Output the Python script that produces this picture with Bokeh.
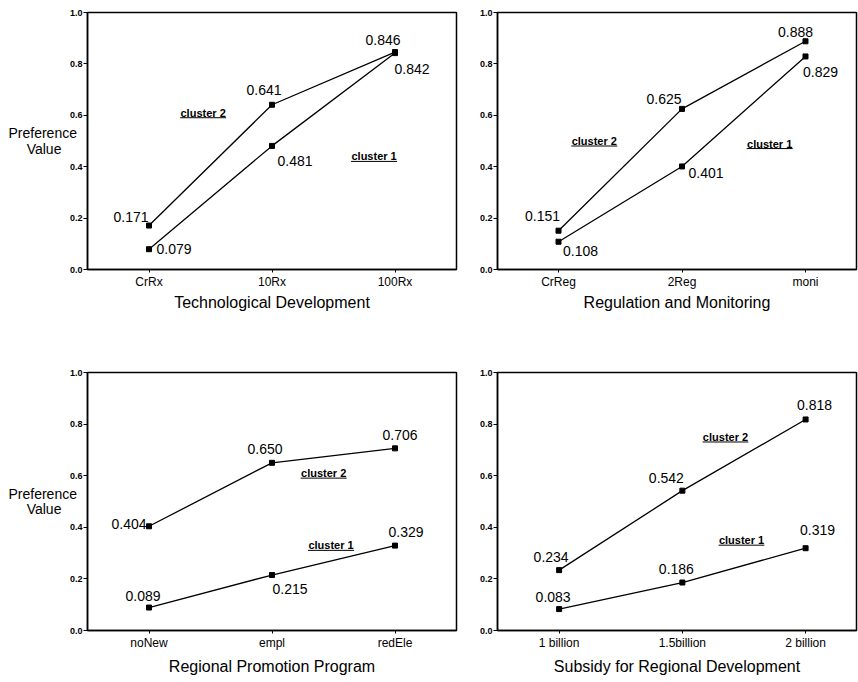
from bokeh.plotting import figure
from bokeh.layouts import gridplot
from bokeh.models import Range1d, FixedTicker, PrintfTickFormatter
from bokeh.core.properties import value
from bokeh.embed import file_html
from bokeh.resources import INLINE

# ---------------- data ----------------
tech_cats = ["CrRx", "10Rx", "100Rx"]
tech_c1 = [0.079, 0.481, 0.842]
tech_c2 = [0.171, 0.641, 0.846]

reg_cats = ["CrReg", "2Reg", "moni"]
reg_c1 = [0.108, 0.401, 0.829]
reg_c2 = [0.151, 0.625, 0.888]

prom_cats = ["noNew", "empl", "redEle"]
prom_c1 = [0.089, 0.215, 0.329]
prom_c2 = [0.404, 0.650, 0.706]

sub_cats = ["1 billion", "1.5billion", "2 billion"]
sub_c1 = [0.083, 0.186, 0.319]
sub_c2 = [0.234, 0.542, 0.818]

y_ticks = [0.0, 0.2, 0.4, 0.6, 0.8, 1.0]
cluster_names = ["cluster 1", "cluster 2"]
y_title = "Preference\nValue" + "\u00a0" * 4

FONT_NAME = "Liberation Sans"
FONT = value(FONT_NAME)


def make(cats, c1, c2, xlabel, w, h, mb, xr, off1, off2, cl_pos, ylabel=None,
         label_standoff=1):
    p = figure(width=w, height=h, x_range=Range1d(*xr), y_range=Range1d(0, 1),
               output_backend="svg", toolbar_location=None,
               min_border_left=mb[0], min_border_right=mb[1],
               min_border_top=mb[2], min_border_bottom=mb[3])
    p.grid.visible = False
    p.background_fill_color = "white"
    p.border_fill_color = "white"
    p.outline_line_color = "black"
    p.outline_line_width = 1.5
    p.outline_line_alpha = 1.0

    fw = w - mb[0] - mb[1]
    fh = h - mb[2] - mb[3]
    ppx = fw / (xr[1] - xr[0])

    xs = list(range(len(cats)))
    for ys, offs in ((c1, off1), (c2, off2)):
        p.line(xs, ys, line_color="black", line_width=1.3)
        p.scatter(xs, ys, marker="square", size=5, color="black")
        p.text(x=xs, y=ys, text=[f"{v:.3f}" for v in ys],
               x_offset=[o[0] for o in offs], y_offset=[o[1] for o in offs],
               text_align="center", text_baseline="middle", text_font=FONT,
               text_font_size="14px", text_color="black")

    # cluster labels, underlined
    for name, (cx, cy) in zip(cluster_names, cl_pos):
        p.text(x=[cx], y=[cy], text=[name], text_align="center",
               text_baseline="middle", text_font=FONT, text_font_size="11px",
               text_font_style="bold", text_color="black")
        hw = 23 / ppx
        dy = 5 / fh
        p.segment(x0=[cx - hw], y0=[cy - dy], x1=[cx + hw], y1=[cy - dy],
                  line_color="black", line_width=1)

    xa = p.xaxis[0]
    xa.ticker = FixedTicker(ticks=xs)
    xa.major_label_overrides = {i: c for i, c in enumerate(cats)}
    xa.minor_tick_line_color = None
    xa.major_tick_out = 3
    xa.major_tick_in = 0
    xa.axis_line_width = 1.5
    xa.major_label_text_font = FONT_NAME
    xa.major_label_text_font_size = "12px"
    xa.major_label_text_color = "black"
    xa.major_label_standoff = 2
    xa.axis_label = xlabel
    xa.axis_label_text_font = FONT_NAME
    xa.axis_label_text_font_size = "16px"
    xa.axis_label_text_font_style = "normal"
    xa.axis_label_text_color = "black"
    xa.axis_label_standoff = label_standoff

    ya = p.yaxis[0]
    ya.ticker = FixedTicker(ticks=y_ticks)
    ya.formatter = PrintfTickFormatter(format="%.1f")
    ya.minor_tick_line_color = None
    ya.major_tick_out = 4
    ya.major_tick_in = 0
    ya.axis_line_width = 1.5
    ya.major_label_text_font = FONT_NAME
    ya.major_label_text_font_size = "9px"
    ya.major_label_text_font_style = "bold"
    ya.major_label_text_color = "black"
    ya.major_label_standoff = 1
    if ylabel is not None:
        ya.axis_label = ylabel
        ya.axis_label_orientation = "horizontal"
        ya.axis_label_text_font = FONT_NAME
        ya.axis_label_text_font_size = "14px"
        ya.axis_label_text_font_style = "normal"
        ya.axis_label_text_color = "black"
        ya.axis_label_text_line_height = 0.95
        ya.axis_label_standoff = -10
    return p


p1 = make(tech_cats, tech_c1, tech_c2, "Technological Development",
          470, 335, (87, 14, 12, 66), (-0.5, 2.5),
          [(25, 0), (23, 15), (17, 16)],
          [(-18, -9), (-8, -15), (-12, -12)],
          [(1.83, 0.44), (0.44, 0.61)], ylabel=y_title, label_standoff=2)

p2 = make(reg_cats, reg_c1, reg_c2, "Regulation and Monitoring",
          388, 335, (27, 2, 12, 66), (-0.494, 2.413),
          [(22, 9), (24, 7), (15, 16)],
          [(-16, -15), (-18, -10), (-10, -9)],
          [(1.71, 0.49), (0.29, 0.50)], label_standoff=2)

p3 = make(prom_cats, prom_c1, prom_c2, "Regional Promotion Program",
          470, 345, (87, 14, 37, 50), (-0.5, 2.5),
          [(-6, -12), (18, 14), (11, -14)],
          [(-20, -2), (-7, -14), (5, -13)],
          [(1.48, 0.33), (1.42, 0.61)], ylabel=y_title,
          label_standoff=5)

p4 = make(sub_cats, sub_c1, sub_c2, "Subsidy for Regional Development",
          388, 345, (25, 2, 37, 49), (-0.5, 2.413),
          [(-6, -12), (-6, -14), (12, -18)],
          [(-8, -13), (-16, -13), (9, -14)],
          [(1.48, 0.35), (1.35, 0.75)], label_standoff=5)

grid = gridplot([[p1, p2], [p3, p4]], toolbar_location=None)

open("out.html", "w").write(file_html(grid, INLINE))
